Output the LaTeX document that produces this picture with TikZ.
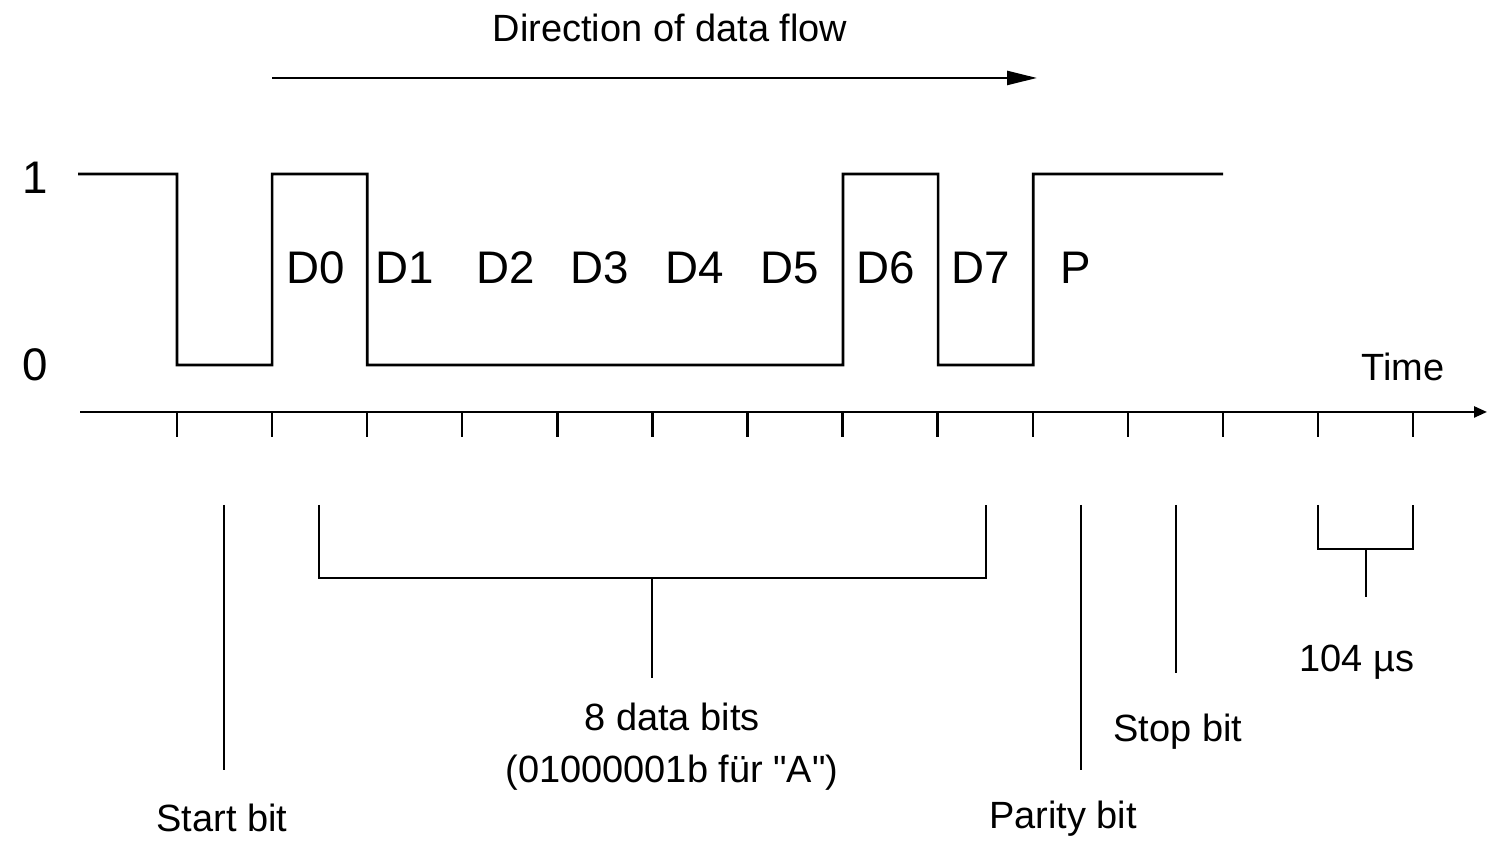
\documentclass[tikz,border=0pt]{standalone}
\usepackage{fontspec}
\setmainfont{Liberation Sans}[Ligatures=TeXOff]
\usetikzlibrary{arrows.meta,positioning}

\tikzset{
	sig/.style={line width=0.75pt},
	marker/.style={line width=0.7pt},
	lbl/.style={font=\fontsize{10.8}{14.8}\selectfont,inner sep=0pt,align=center},
	bitlbl/.style={font=\fontsize{13}{15}\selectfont,inner sep=0pt},
}

\begin{document}
\begin{tikzpicture}

\useasboundingbox (0,0) rectangle (14.95,8.5);

%levels
\node[bitlbl] (one) at (0.35,6.72) {1};
\node[bitlbl] (zero) at (0.35,4.85) {0};

%signal
\draw[sig] (0.78,6.76) -- (1.77,6.76) -- ++(0,-1.91) -- ++(0.951,0)
-- ++(0,1.91) -- ++(0.951,0) -- ++(0,-1.91) -- (8.43,4.85)
-- ++(0,1.91) -- ++(0.951,0) -- ++(0,-1.91) -- ++(0.951,0)
-- ++(0,1.91) -- (12.23,6.76);%A

%bit names
\foreach \n/\x in {D0/3.16,D1/4.05,D2/5.06,D3/6.00,D4/6.95,D5/7.90,D6/8.86,D7/9.81,P/10.76}
	\node[bitlbl] (\n) at (\x,5.82) {\n};

%direction
\node[lbl] (dir) at (6.70,8.22) {Direction of data flow};
\coordinate (dirA) at (2.72,7.72);
\coordinate (dirB) at (10.37,7.72);
\draw[marker,-{Triangle[length=3mm,width=1.4mm]}] (dirA) -- (dirB);

%time axis
\coordinate (tA) at (0.80,4.38);
\coordinate (tB) at (14.87,4.38);
\draw[marker,-{Triangle[length=1.3mm,width=1.1mm]}] (tA) -- (tB);
\foreach \i in {0,...,13}
	\draw[marker] (1.77+\i*0.9508,4.38) -- ++(0,-0.25);% ticks
\node[lbl] (time) at (14.03,4.83) {Time};

%start bit
\node[lbl] (startlbl) at (2.22,0.32) {Start bit};
\coordinate (startA) at (2.24,3.45);
\coordinate (startB) at (2.24,0.80);
\draw[marker] (startA) -- (startB);

%data bits
\node[lbl] (datalbl) at (6.72,1.03) {8 data bits\\(01000001b für "A")};
\coordinate (dataA) at (3.19,3.45);
\coordinate (dataB) at (9.86,3.45);
\coordinate (dataM) at (6.52,2.72);
\draw[marker] (dataA) -- ++(0,-0.73) -| (dataB);
\draw[marker] (dataM) -- ++(0,-1.0);

%parity bit
\node[lbl] (paritylbl) at (10.63,0.31) {Parity bit};
\coordinate (parA) at (10.81,3.45);
\coordinate (parB) at (10.81,0.80);
\draw[marker] (parA) -- (parB);

%stop bit
\node[lbl] (stoplbl) at (11.78,1.18) {Stop bit};
\coordinate (stopA) at (11.76,3.45);
\coordinate (stopB) at (11.76,1.77);
\draw[line width=0.5pt] (stopA) -- (stopB);

%bit time
\node[lbl] (periodlbl) at (13.57,1.88) {104 µs};
\coordinate (perA) at (13.18,3.45);
\coordinate (perB) at (14.13,3.45);
\coordinate (perM) at (13.66,3.01);
\draw[marker] (perA) -- ++(0,-0.44) -| (perB);
\draw[marker] (perM) -- ++(0,-0.48);

\end{tikzpicture}
\end{document}
